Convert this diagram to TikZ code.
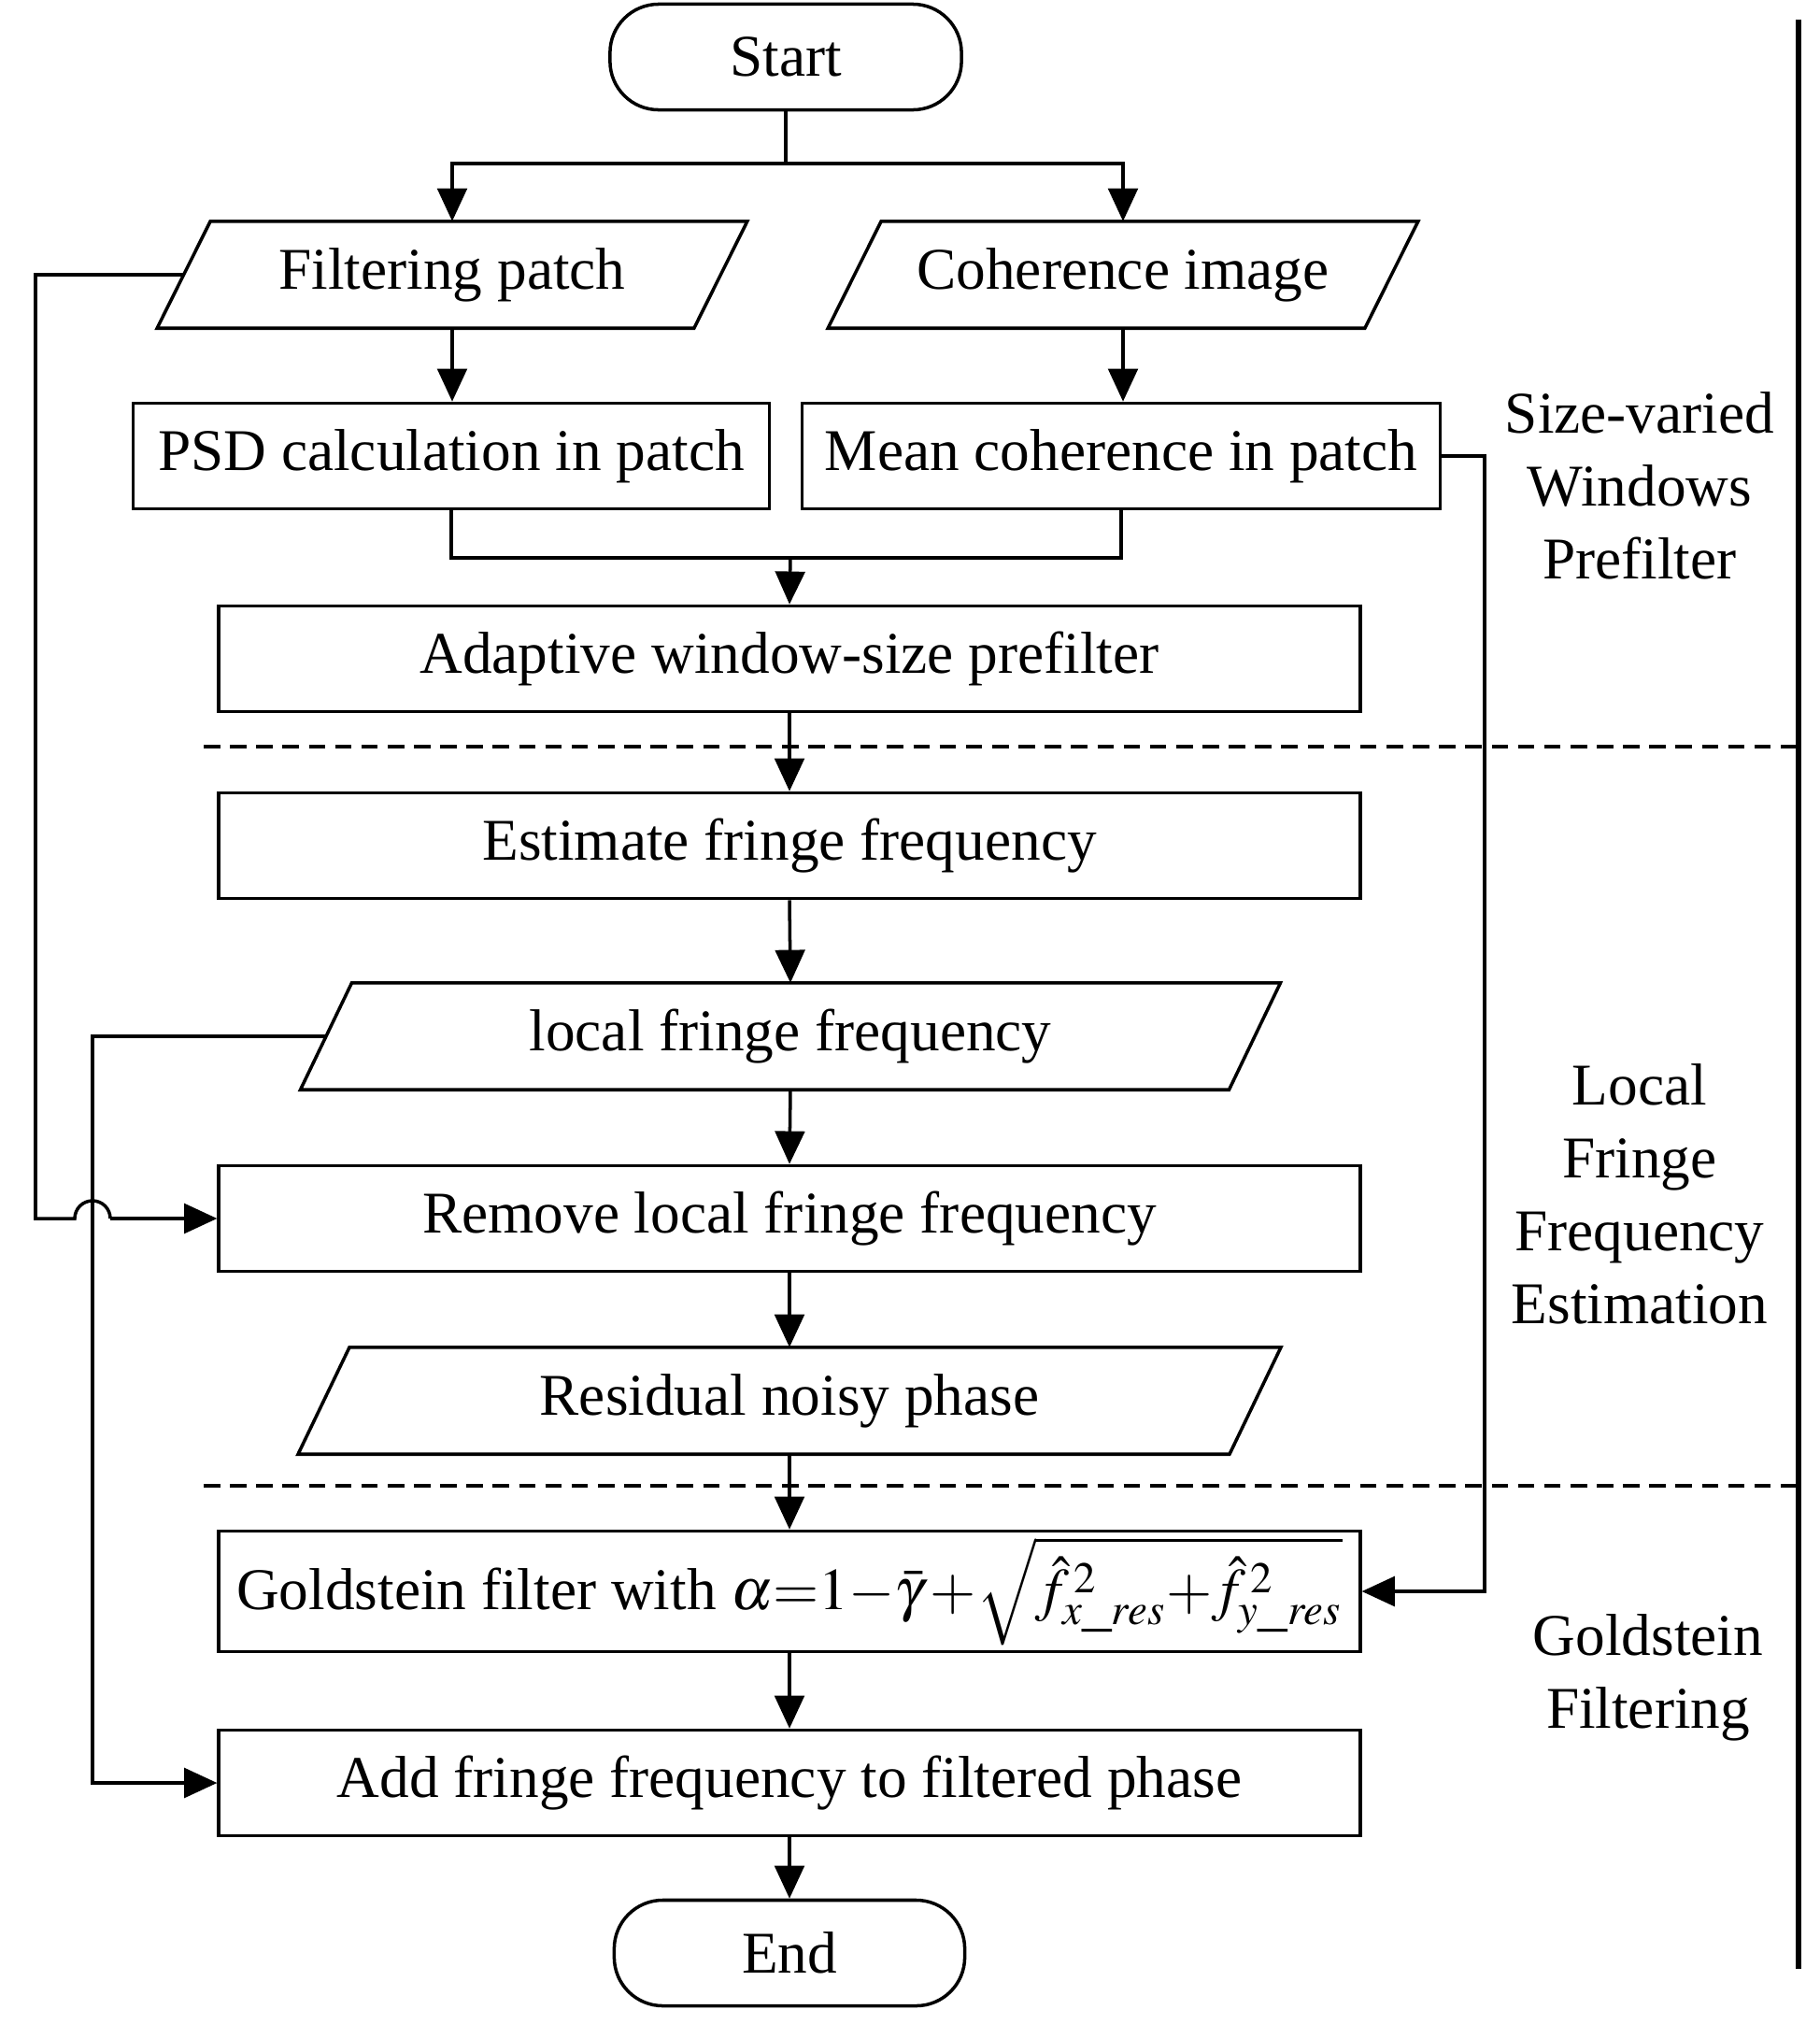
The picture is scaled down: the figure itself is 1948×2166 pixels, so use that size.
\documentclass[tikz,border=0pt]{standalone}
\usepackage{mathptmx}
\usepackage{fontspec}
\setmainfont{Liberation Serif}
\usetikzlibrary{arrows.meta,calc}
\begin{document}
\begin{tikzpicture}[x=0.01cm,y=-0.01cm,
  every node/.style={font=\fontsize{18}{22.2}\selectfont},
  box/.style={draw, line width=1pt, minimum height=1.13cm, inner sep=0pt},
  io/.style={minimum height=1.13cm, inner sep=0pt},
  term/.style={draw, line width=1pt, rounded corners=0.52cm, minimum height=1.13cm, minimum width=3.76cm, inner sep=0pt},
  ln/.style={line width=1pt},
  arr/.style={ln, -{Triangle[length=10pt,width=9pt]}},
  sep/.style={line width=1pt, dash pattern=on 5pt off 3pt},
  lab/.style={align=center, inner sep=0pt}]
\useasboundingbox (0,0) rectangle (1948,2166);

% nodes
\node[term] (start) at (841,61) {Start};
\node[io, minimum width=6.30cm] (fp) at (484,294) {Filtering patch};
\node[io, minimum width=6.30cm] (ci) at (1202,294) {Coherence image};
\node[box, minimum width=6.81cm] (psd) at (483,488) {PSD calculation in patch};
\node[box, minimum width=6.83cm] (mc) at (1200,488) {Mean coherence in patch};
\node[box, minimum width=12.21cm] (ad) at (845,705) {Adaptive window-size prefilter};
\node[box, minimum width=12.21cm] (est) at (845,905) {Estimate fringe frequency};
\node[io, minimum width=10.47cm] (lff) at (846,1109) {local fringe frequency};
\node[box, minimum width=12.21cm] (rm) at (845,1304) {Remove local fringe frequency};
\node[io, minimum width=10.50cm] (res) at (845,1499) {Residual noisy phase};
\node[box, minimum width=12.21cm, minimum height=1.29cm] (gf) at (845,1703)
  {Goldstein filter with $\alpha{=}1{-}\bar{\gamma}\mkern2mu{+}\sqrt{\hat{f}^{\,2}_{x\_res}{+}\hat{f}^{\,2}_{y\_res}}$};
\node[box, minimum width=12.21cm] (add) at (845,1908) {Add fringe frequency to filtered phase};
\node[term, minimum width=3.75cm] (end) at (845,2090) {End};

% parallelogram outlines
\foreach \n/\s in {fp/0.57cm, ci/0.57cm, lff/0.55cm, res/0.55cm}{
  \draw[ln] ([xshift=\s]\n.north west) -- (\n.north east)
    -- ([xshift=-\s]\n.south east) -- (\n.south west) -- cycle;
}

% side labels
\node[lab] (l1) at (1755,520) {Size-varied\\Windows\\Prefilter};
\node[lab] (l2) at (1755,1278) {Local\\Fringe\\Frequency\\Estimation};
\node[lab] (l3) at (1764,1795) {Goldstein\\Filtering};

% separators
\coordinate (s1a) at (218,799);
\coordinate (s1b) at (1925,799);
\coordinate (s2a) at (218,1590);
\coordinate (s2b) at (1925,1590);
\draw[sep] (s1a) -- (s1b);
\draw[sep] (s2a) -- (s2b);
\coordinate (vt) at (1925,21);
\coordinate (vb) at (1925,2107);
\draw[line width=1.9pt] (vt) -- (vb);

% main connectors
\coordinate (br) at (841,175);
\draw[ln] (start.south) -- (br);
\draw[arr] (br) -| (fp.north);
\draw[arr] (br) -| (ci.north);
\draw[arr] (fp.south) -- (fp.south |- psd.north);
\draw[arr] (ci.south) -- (ci.south |- mc.north);
\coordinate (mg) at (846,597);
\draw[ln] (psd.south) |- (mg);
\draw[ln] (mc.south) |- (mg);
\draw[arr] (mg) -- (ad.north);
\draw[arr] (ad.south) -- (est.north);
\draw[arr] (est.south) -- (lff.north);
\draw[arr] (lff.south) -- (rm.north);
\draw[arr] (rm.south) -- (res.north);
\draw[arr] (res.south) -- (gf.north);
\draw[arr] (gf.south) -- (add.north);
\draw[arr] (add.south) -- (end.north);

% feedback 1: filtering patch -> remove (with jump)
\coordinate (f1a) at ($(fp.west)+(0.285cm,0)$);
\coordinate (f1b) at (38,294);
\coordinate (f1c) at (38,1304);
\coordinate (f1d) at (80,1304);
\draw[ln] (f1a) -- (f1b) -- (f1c) -- (f1d)
  arc[start angle=180, end angle=0, radius=0.19cm];
\coordinate (f1e) at (118,1304);
\draw[arr] (f1e) -- (rm.west);

% feedback 2: local fringe frequency -> add
\coordinate (f2a) at ($(lff.west)+(0.275cm,0)$);
\coordinate (f2b) at (99,1109);
\coordinate (f2c) at (99,1908);
\draw[arr] (f2a) -- (f2b) -- (f2c) -- (add.west);

% feedback 3: mean coherence -> goldstein
\coordinate (f3b) at (1589,488);
\coordinate (f3c) at (1589,1703);
\draw[arr] (mc.east) -- (f3b) -- (f3c) -- (gf.east);
\end{tikzpicture}
\end{document}
